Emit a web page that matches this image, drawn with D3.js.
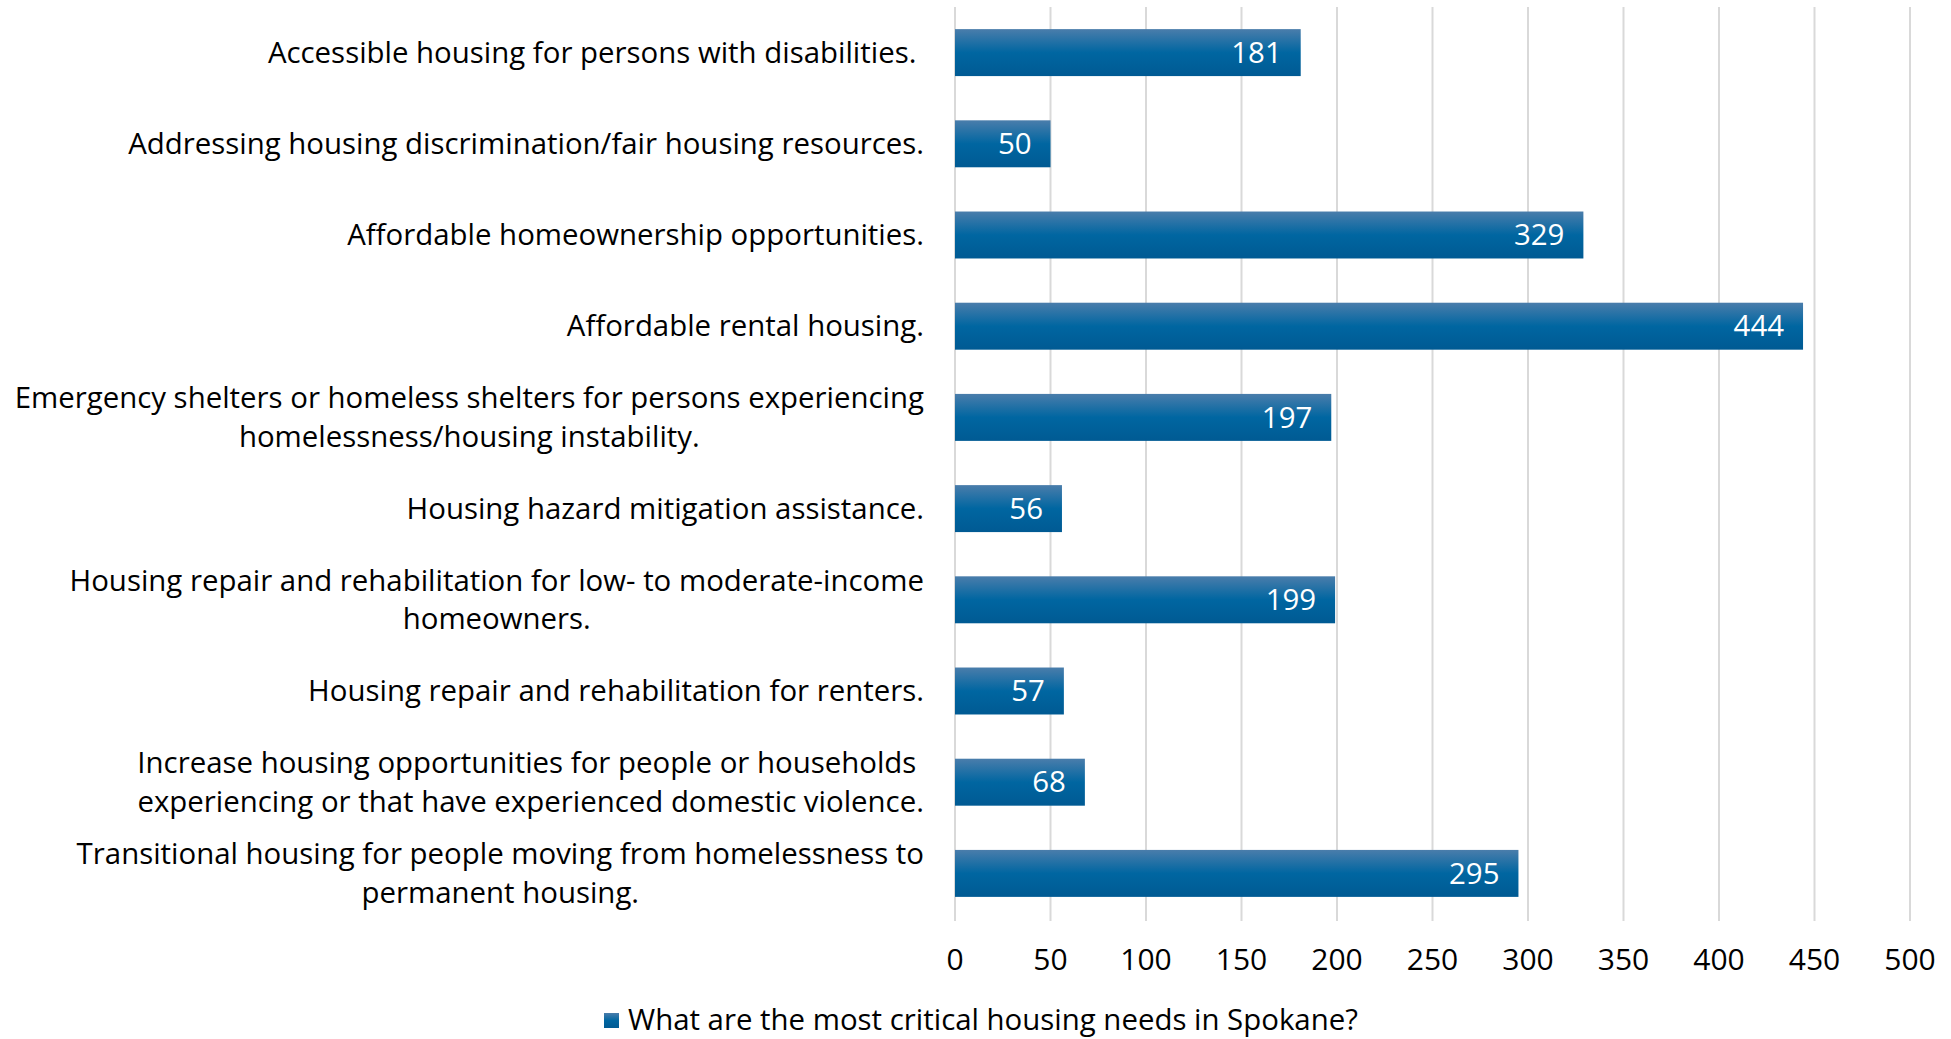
<!DOCTYPE html>
<html><head><meta charset="utf-8">
<script src="https://cdn.jsdelivr.net/npm/d3@7/dist/d3.min.js"></script>
<style>html,body{margin:0;padding:0;background:#fff;}svg{display:block;}</style>
</head><body>
<svg id="chart" width="1951" height="1039"></svg>
<script>
const categories = [
  ["Accessible housing for persons with disabilities.\u00a0"],
  ["Addressing housing discrimination/fair housing resources."],
  ["Affordable homeownership opportunities."],
  ["Affordable rental housing."],
  ["Emergency shelters or homeless shelters for persons experiencing", "homelessness/housing instability."],
  ["Housing hazard mitigation assistance."],
  ["Housing repair and rehabilitation for low- to moderate-income", "homeowners."],
  ["Housing repair and rehabilitation for renters."],
  ["Increase housing opportunities for people or households\u00a0", "experiencing or that have experienced domestic violence."],
  ["Transitional housing for people moving from homelessness to", "permanent housing."]
];
const values = [181, 50, 329, 444, 197, 56, 199, 57, 68, 295];
const xTicks = [0, 50, 100, 150, 200, 250, 300, 350, 400, 450, 500];
const seriesName = "What are the most critical housing needs in Spokane?";

const FONT = "Open Sans, sans-serif";
const FS = 29.4;
const svg = d3.select("#chart");
const defs = svg.append("defs");
const grad = defs.append("linearGradient").attr("id","barGrad").attr("x1",0).attr("y1",0).attr("x2",0).attr("y2",1);
grad.append("stop").attr("offset","0%").attr("stop-color","#4a7dab");
grad.append("stop").attr("offset","50%").attr("stop-color","#0066a1");
grad.append("stop").attr("offset","100%").attr("stop-color","#005a93");

const x = d3.scaleLinear().domain([0, 500]).range([955, 1910]);
const y = d3.scaleBand().domain(d3.range(categories.length)).range([7, 919]).paddingInner(0.485).paddingOuter(0.2425);

// gridlines
svg.append("g").selectAll("line").data(xTicks).join("line")
  .attr("x1", d => x(d)).attr("x2", d => x(d))
  .attr("y1", 7).attr("y2", 921)
  .attr("stroke", "#d9d9d9").attr("stroke-width", 2);

// bars
svg.append("g").selectAll("rect").data(values).join("rect")
  .attr("x", x(0)).attr("y", (d,i) => y(i))
  .attr("width", d => x(d) - x(0)).attr("height", y.bandwidth())
  .attr("fill", "url(#barGrad)");

// value labels
svg.append("g").selectAll("text").data(values).join("text")
  .attr("x", d => x(d) - 19).attr("y", (d,i) => y(i) + y.bandwidth()/2)
  .attr("dy", "0.35em").attr("text-anchor", "end")
  .attr("fill", "#fff").attr("font-family", FONT).attr("font-size", FS)
  .text(d => d);

// category labels
const labelRight = 924;
const lineH = 38.6;
const lg = svg.append("g");
categories.forEach((lines, i) => {
  const cy = y(i) + y.bandwidth()/2;
  const g = lg.append("g");
  const ts = lines.map((ln, j) => g.append("text")
    .attr("font-family", FONT).attr("font-size", FS).attr("fill", "#000")
    .style("white-space", "pre")
    .attr("y", cy + (j - (lines.length - 1)/2) * lineH)
    .attr("dy", "0.35em").attr("text-anchor", "middle").text(ln));
  const w = d3.max(ts, t => t.node().getComputedTextLength());
  ts.forEach(t => t.attr("x", labelRight - w/2));
});

// x tick labels
svg.append("g").selectAll("text").data(xTicks).join("text")
  .attr("x", d => x(d)).attr("y", 959).attr("dy", "0.35em")
  .attr("text-anchor", "middle").attr("font-family", FONT).attr("font-size", 30).attr("fill", "#000")
  .text(d => d);

// legend
const leg = svg.append("g");
leg.append("rect").attr("x", 604).attr("y", 1013).attr("width", 15).attr("height", 15).attr("fill", "url(#barGrad)");
leg.append("text").attr("x", 628).attr("y", 1020).attr("dy", "0.35em")
  .attr("font-family", FONT).attr("font-size", FS).attr("fill", "#000").text(seriesName);
</script>
</body></html>
